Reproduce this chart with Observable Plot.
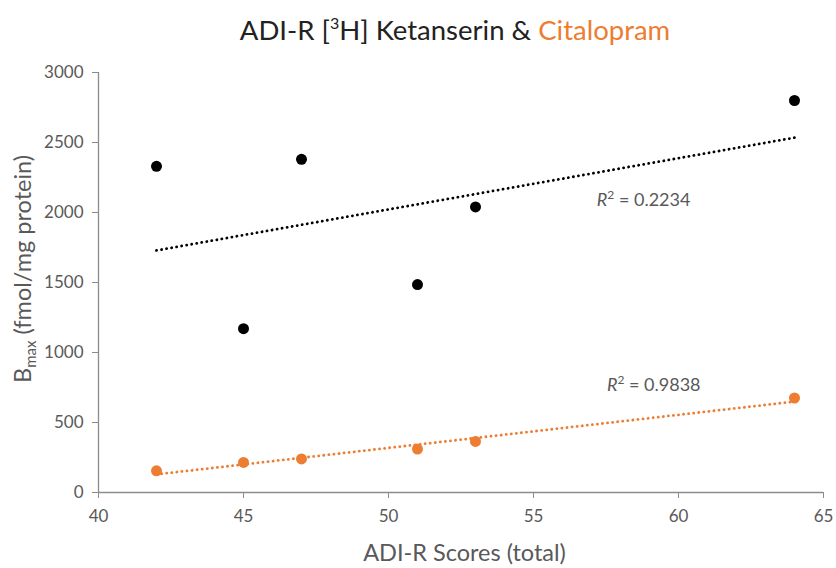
<!DOCTYPE html>
<html><head><meta charset="utf-8">
<script src="https://cdn.jsdelivr.net/npm/d3@7"></script>
<script src="https://cdn.jsdelivr.net/npm/@observablehq/plot@0.6"></script>
<style>
body{margin:0;background:#fff;font-family:Lato,"Open Sans",sans-serif;}
#title{height:55px;width:836px;text-align:center;font-size:27.5px;line-height:60px;color:#222;padding-left:74px;box-sizing:border-box;}
#title sup{font-size:16px;vertical-align:11px;line-height:0;}
</style></head><body>
<div id="title">ADI-R [<sup>3</sup>H] Ketanserin &amp; <span style="color:#ED7D31">Citalopram</span></div>
<div id="chart"></div>
<script>
const adirScores = [42, 45, 47, 51, 53, 64];
const ketanserin = [2330, 1170, 2380, 1485, 2040, 2800];
const citalopram = [155, 215, 240, 310, 365, 675];
const xTicks = [40, 45, 50, 55, 60, 65];
const yTicks = [0, 500, 1000, 1500, 2000, 2500, 3000];
const r2Labels = [
  {series: "Ketanserin", x: 57.2, y: 2040, value: "0.2234"},
  {series: "Citalopram", x: 57.55, y: 725, value: "0.9838"}
];
const colors = {Ketanserin: "#000000", Citalopram: "#ED7D31"};

const ket = adirScores.map((x, i) => ({x, y: ketanserin[i]}));
const cit = adirScores.map((x, i) => ({x, y: citalopram[i]}));

const font = "Lato, 'Open Sans', sans-serif";
const axisColor = "#8c8c8c";
const plot = Plot.plot({
  width: 836, height: 513,
  marginLeft: 98, marginRight: 13, marginTop: 17, marginBottom: 76,
  style: {fontFamily: font, fontSize: "17px", color: "#595959", background: "#fff"},
  x: {domain: [40, 65], ticks: xTicks, label: null},
  y: {domain: [0, 3000], ticks: yTicks, label: null, tickFormat: "d"},
  marks: [
    Plot.ruleY([0], {stroke: axisColor, strokeWidth: 1.3}),
    Plot.ruleX([40], {stroke: axisColor, strokeWidth: 1.3}),
    Plot.axisX({ticks: xTicks, tickSize: 6, tickPadding: 11, stroke: axisColor, fill: "#595959", fontSize: 17}),
    Plot.axisY({ticks: yTicks, tickSize: 6, tickPadding: 9, tickFormat: "d", stroke: axisColor, fill: "#595959", fontSize: 17}),
    Plot.linearRegressionY(ket, {x: "x", y: "y", ci: 0, stroke: colors.Ketanserin, strokeWidth: 2.8, strokeDasharray: "0.1,5", strokeLinecap: "round"}),
    Plot.linearRegressionY(cit, {x: "x", y: "y", ci: 0, stroke: colors.Citalopram, strokeWidth: 2.8, strokeDasharray: "0.1,5", strokeLinecap: "round"}),
    Plot.dot(ket, {x: "x", y: "y", r: 5.5, fill: colors.Ketanserin, stroke: null}),
    Plot.dot(cit, {x: "x", y: "y", r: 5.5, fill: colors.Citalopram, stroke: null})
  ]
});
document.getElementById("chart").appendChild(plot);

const svg = d3.select(plot);
const xs = plot.scale("x"), ys = plot.scale("y");
// R² annotations
for (const d of r2Labels) {
  const t = svg.append("text")
    .attr("x", xs.apply(d.x)).attr("y", ys.apply(d.y))
    .attr("text-anchor", "start")
    .attr("fill", "#595959").attr("font-size", 18)
    .attr("font-family", font);
  t.append("tspan").attr("font-style", "italic").text("R");
  t.append("tspan").attr("dy", -7).attr("font-size", 12).text("2");
  t.append("tspan").attr("dy", 7).text(" = " + d.value);
}
// x axis label
svg.append("text")
  .attr("x", (98 + 823) / 2 + 4).attr("y", 506)
  .attr("text-anchor", "middle").attr("fill", "#595959")
  .attr("font-size", 23.5).attr("font-family", font)
  .text("ADI-R Scores (total)");
// y axis label with subscript
const yl = svg.append("text")
  .attr("transform", `translate(31, ${269 - 55}) rotate(-90)`)
  .attr("text-anchor", "middle").attr("fill", "#595959")
  .attr("font-size", 23.5).attr("font-family", font);
yl.append("tspan").text("B");
yl.append("tspan").attr("font-size", 15).attr("dy", 5).text("max");
yl.append("tspan").attr("dy", -5).text(" (fmol/mg protein)");
</script>
</body></html>
